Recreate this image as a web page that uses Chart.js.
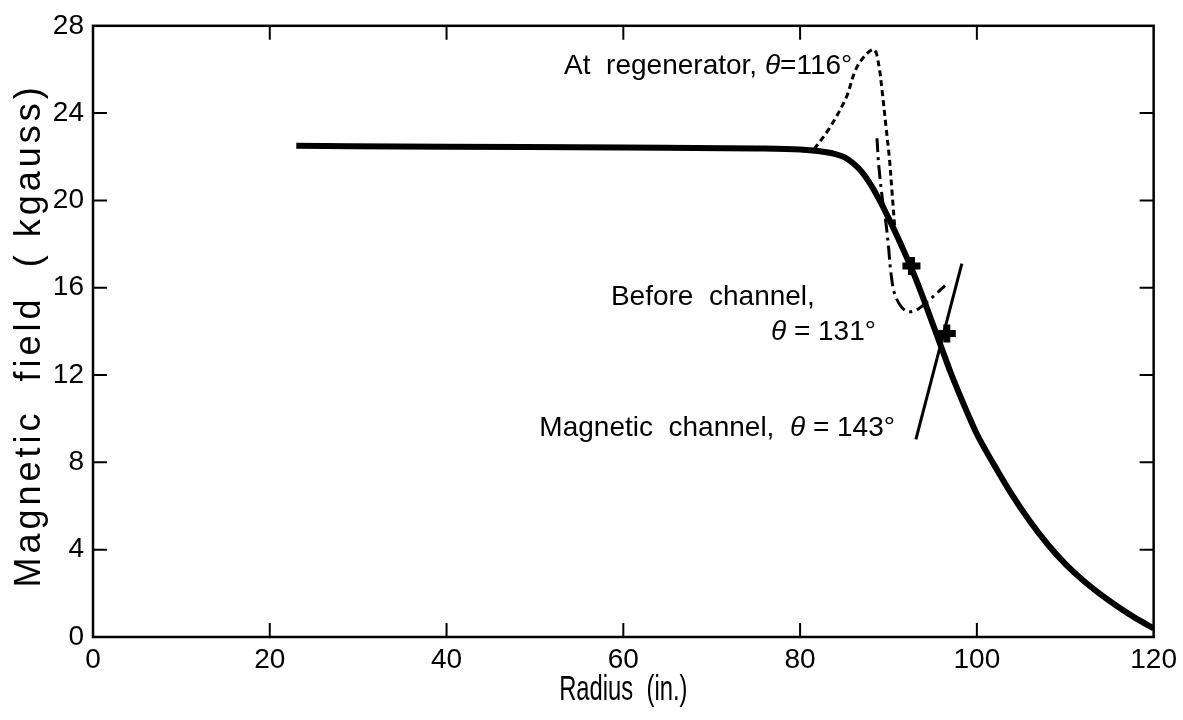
<!DOCTYPE html>
<html>
<head>
<meta charset="utf-8">
<title>Magnetic field vs radius</title>
<script src="https://cdn.jsdelivr.net/npm/chart.js@4.4.1/dist/chart.umd.min.js"></script>
<style>
  html, body { margin: 0; padding: 0; background: #fff; }
  canvas { display: block; }
</style>
</head>
<body>
<canvas id="chart-field" width="1183" height="720"></canvas>
<script>
// ─── Data ────────────────────────────────────────────────────────────────────
// main field profile (solid, heavy)
const radiusMain = [23, 40, 60, 75, 80, 82, 84, 85, 86, 87, 88, 89, 90, 91, 92, 93, 94, 95, 96, 97, 98, 99, 100, 101, 102, 104, 106, 108, 110, 112, 114, 116, 118, 120];
const fieldMain  = [22.5, 22.46, 22.42, 22.38, 22.33, 22.26, 22.12, 21.98, 21.7, 21.3, 20.72, 20.0, 19.2, 18.35, 17.45, 16.5, 15.45, 14.35, 13.25, 12.15, 11.15, 10.2, 9.3, 8.55, 7.85, 6.5, 5.3, 4.25, 3.35, 2.6, 1.95, 1.37, 0.85, 0.4];

// at regenerator, theta = 116 deg (short dashes)
const radiusRegen = [81.6, 83.3, 85.2, 86.3, 87.5, 88.4, 88.9, 89.3, 89.7, 90.1, 90.4, 90.7];
const fieldRegen  = [22.35, 23.3, 24.7, 26.0, 26.7, 26.9, 26.2, 24.95, 23.45, 21.95, 20.4, 18.8];

// before channel, theta = 131 deg (dash-dot)
const radiusBefore = [88.7, 88.9, 89.3, 89.7, 90.0, 90.3, 90.8, 91.9, 93.0, 94.5, 96.4];
const fieldBefore  = [22.85, 21.6, 20.1, 19.0, 17.9, 16.6, 15.6, 14.95, 14.95, 15.4, 16.1];

// magnetic channel, theta = 143 deg (thin straight line)
const radiusChannel = [93.1, 98.3];
const fieldChannel  = [9.05, 17.1];

// crosses on the curves
const radiusMarks = [92.6, 96.6];
const fieldMarks  = [17.0, 13.9];

const xTicks = [0, 20, 40, 60, 80, 100, 120];
const yTicks = [0, 4, 8, 12, 16, 20, 24, 28];

const xTitle = 'Radius  (in.)';
const yTitle = 'Magnetic  field  ( kgauss)';

// notes: anchor in data units, parts drawn in sequence (italic for theta)
const notes = [
  { at: [53.3, 25.8], parts: [['At  regenerator, ', false], ['θ', true], ['=116°', false]] },
  { at: [58.6, 15.2], parts: [['Before  channel,', false]] },
  { at: [76.7, 13.6], parts: [['θ', true], [' = 131°', false]] },
  { at: [50.5, 9.2],  parts: [['Magnetic  channel,  ', false], ['θ', true], [' = 143°', false]] },
];

const FONT = "'Liberation Sans', Arial, sans-serif";
const TICK = 14;

const toPoints = (xs, ys) => xs.map((v, i) => ({ x: v, y: ys[i] }));

// ─── Frame, inward ticks, titles and notes ───────────────────────────────────
const frameAndNotes = {
  id: 'frameAndNotes',
  afterDatasetsDraw(chart) {
    const { ctx, chartArea: a, scales: { x, y } } = chart;
    ctx.save();
    ctx.strokeStyle = '#000';
    ctx.fillStyle = '#000';
    ctx.lineWidth = 2.5;
    ctx.strokeRect(a.left, a.top, a.right - a.left, a.bottom - a.top);

    ctx.lineWidth = 2;
    ctx.beginPath();
    x.ticks.forEach(t => {
      if (t.value <= x.min || t.value >= x.max) return;
      const px = x.getPixelForValue(t.value);
      ctx.moveTo(px, a.bottom); ctx.lineTo(px, a.bottom - TICK);
      ctx.moveTo(px, a.top);    ctx.lineTo(px, a.top + TICK);
    });
    y.ticks.forEach(t => {
      if (t.value <= y.min || t.value >= y.max) return;
      const py = y.getPixelForValue(t.value);
      ctx.moveTo(a.left, py);  ctx.lineTo(a.left + TICK, py);
      ctx.moveTo(a.right, py); ctx.lineTo(a.right - TICK, py);
    });
    ctx.stroke();

    // notes beside the curves
    ctx.textBaseline = 'alphabetic';
    ctx.textAlign = 'left';
    notes.forEach(n => {
      let px = x.getPixelForValue(n.at[0]);
      const py = y.getPixelForValue(n.at[1]);
      n.parts.forEach(([txt, italic]) => {
        ctx.font = `${italic ? 'italic ' : ''}28px ${FONT}`;
        ctx.fillText(txt, px, py);
        px += ctx.measureText(txt).width;
      });
    });

    // axis titles: x condensed, y letter-spaced
    ctx.textAlign = 'center';
    ctx.textBaseline = 'middle';
    ctx.save();
    ctx.font = `35px ${FONT}`;
    ctx.translate((a.left + a.right) / 2, 690);
    ctx.scale(0.68, 1);
    ctx.fillText(xTitle, 0, 0);
    ctx.restore();

    ctx.letterSpacing = '4px';
    ctx.font = `36px ${FONT}`;
    ctx.translate(30, (a.top + a.bottom) / 2 + 4);
    ctx.rotate(-Math.PI / 2);
    ctx.fillText(yTitle, 0, 0);
    ctx.restore();
  }
};

// ─── Chart ───────────────────────────────────────────────────────────────────
function renderFieldChart() {
  const ctx = document.getElementById('chart-field');
  const line = { showLine: true, pointRadius: 0, borderColor: '#000', backgroundColor: '#000', fill: false };

  new Chart(ctx, {
    type: 'scatter',
    data: {
      datasets: [
        { ...line, label: 'Field', data: toPoints(radiusMain, fieldMain), borderWidth: 6, cubicInterpolationMode: 'monotone' },
        { ...line, label: 'At regenerator', data: toPoints(radiusRegen, fieldRegen), borderWidth: 3, borderDash: [6, 4], tension: 0.35 },
        { ...line, label: 'Before channel', data: toPoints(radiusBefore, fieldBefore), borderWidth: 3, borderDash: [14, 5, 3, 5], tension: 0.35 },
        { ...line, label: 'Magnetic channel', data: toPoints(radiusChannel, fieldChannel), borderWidth: 3 },
        { label: 'Marks', data: toPoints(radiusMarks, fieldMarks), showLine: false, pointStyle: 'cross',
          pointRadius: 9, borderWidth: 7, borderColor: '#000', backgroundColor: '#000' },
      ]
    },
    options: {
      responsive: false,
      animation: false,
      layout: { padding: { top: 21, right: 28, left: 0, bottom: 0 } },
      plugins: { legend: { display: false }, tooltip: { enabled: false } },
      scales: {
        x: {
          type: 'linear', min: 0, max: 120,
          afterBuildTicks: s => { s.ticks = xTicks.map(v => ({ value: v })); },
          afterFit: s => { s.height = 83; },
          ticks: { color: '#000', font: { family: FONT, size: 28 }, padding: 6, maxRotation: 0 },
          grid: { display: false, drawTicks: false },
          border: { display: false },
        },
        y: {
          type: 'linear', min: 0, max: 28,
          afterBuildTicks: s => { s.ticks = yTicks.map(v => ({ value: v })); },
          afterFit: s => { s.width = 93; },
          ticks: { color: '#000', font: { family: FONT, size: 28 }, padding: 9 },
          grid: { display: false, drawTicks: false },
          border: { display: false },
        }
      }
    },
    plugins: [frameAndNotes]
  });
}

document.addEventListener('DOMContentLoaded', renderFieldChart);
</script>
</body>
</html>
